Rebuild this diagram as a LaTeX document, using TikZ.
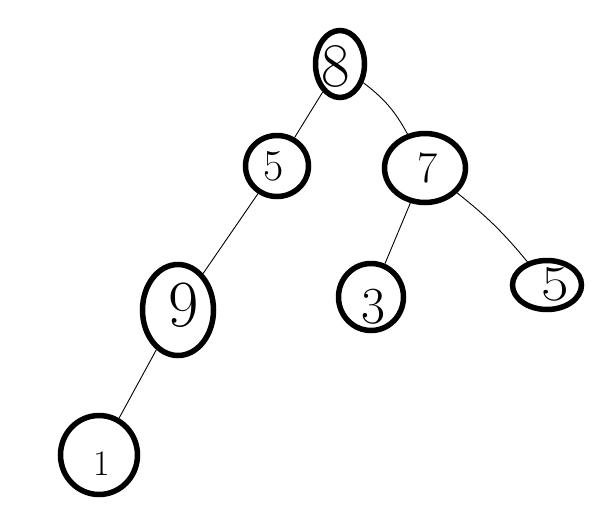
\documentclass[tikz,border=0pt]{standalone}
\usetikzlibrary{shapes.geometric}
\begin{document}
\begin{tikzpicture}[x=1pt,y=-1pt,
  tnode/.style={ellipse,draw=black,line width=5.5pt,inner sep=0pt},
  digit/.style={inner sep=0pt,font=\fontsize{#1}{#1}\selectfont},
  edge/.style={draw=black,line width=0.9pt}]
\useasboundingbox[fill=white] (0,0) rectangle (608,528);
% tree nodes (ellipses)
\node[tnode,minimum width=49pt,minimum height=67pt] (n8) at (340,64) {};
\node[tnode,minimum width=63pt,minimum height=61pt] (n5) at (277,166) {};
\node[tnode,minimum width=81pt,minimum height=69pt] (n7) at (425,168) {};
\node[tnode,minimum width=71pt,minimum height=91pt] (n9) at (178,310) {};
\node[tnode,minimum width=65pt,minimum height=67pt] (n3) at (371,297) {};
\node[tnode,minimum width=69pt,minimum height=49pt] (n5r) at (547,285) {};
\node[tnode,minimum width=77pt,minimum height=79pt] (n1) at (99,455) {};
% digits
\node[digit=62] (d8) at (336,67) {8};
\node[digit=44] (d5) at (274,166) {5};
\node[digit=44] (d7) at (428,168) {7};
\node[digit=66] (d9) at (184,305) {9};
\node[digit=52] (d3) at (373,307) {3};
\node[digit=50,xscale=1.2] (d5r) at (555,284) {5};
\node[digit=36] (d1) at (102,464) {1};
% connectors
\draw[edge] (n8) -- (n5);
\draw[edge] (n8) to[bend left=12] (n7);
\draw[edge] (n5) -- (n9);
\draw[edge] (n7) -- (n3);
\draw[edge] (n7) to[bend left=6] (n5r);
\draw[edge] (n9) -- (n1);
\end{tikzpicture}
\end{document}
